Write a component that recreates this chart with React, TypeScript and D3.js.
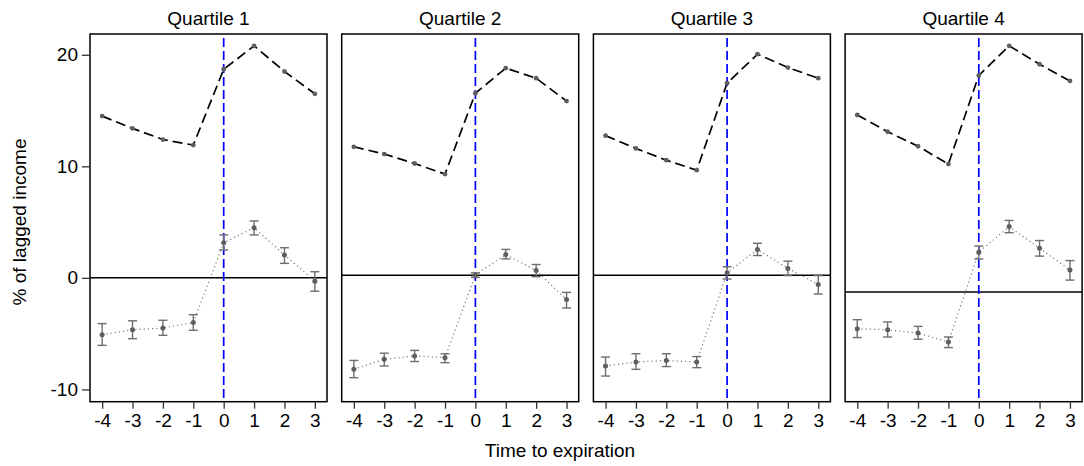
import { useEffect, useRef } from 'react';
import * as d3 from "d3";

// time relative to expiration
const times = [-4, -3, -2, -1, 0, 1, 2, 3];
const quartiles = ["Quartile 1", "Quartile 2", "Quartile 3", "Quartile 4"];
const yTicks = [-10, 0, 10, 20];

// dashed series (levels)
const levelQ1 = [14.5, 13.4, 12.4, 11.9, 18.7, 20.8, 18.5, 16.5];
const levelQ2 = [11.75, 11.1, 10.25, 9.3, 16.55, 18.8, 17.9, 15.85];
const levelQ3 = [12.75, 11.6, 10.55, 9.65, 17.45, 20.05, 18.85, 17.9];
const levelQ4 = [14.6, 13.1, 11.8, 10.2, 18.15, 20.8, 19.15, 17.65];

// dotted series (estimates with confidence intervals)
const estQ1 = [-5.1, -4.65, -4.5, -4.0, 3.15, 4.5, 2.05, -0.3];
const loQ1 = [-6.05, -5.45, -5.15, -4.7, 2.5, 3.85, 1.3, -1.2];
const hiQ1 = [-4.1, -3.85, -3.8, -3.3, 3.85, 5.1, 2.7, 0.55];

const estQ2 = [-8.2, -7.3, -7.0, -7.15, 0.25, 2.1, 0.65, -1.95];
const loQ2 = [-8.95, -7.9, -7.5, -7.6, 0.05, 1.7, 0.1, -2.7];
const hiQ2 = [-7.4, -6.75, -6.5, -6.8, 0.45, 2.55, 1.2, -1.3];

const estQ3 = [-7.9, -7.55, -7.4, -7.55, 0.45, 2.55, 0.85, -0.6];
const loQ3 = [-8.8, -8.2, -7.95, -8.05, -0.1, 2.0, 0.2, -1.45];
const hiQ3 = [-7.1, -6.8, -6.8, -7.05, 1.0, 3.1, 1.5, 0.2];

const estQ4 = [-4.55, -4.65, -4.95, -5.75, 2.3, 4.6, 2.65, 0.7];
const loQ4 = [-5.35, -5.3, -5.5, -6.25, 1.7, 4.05, 1.95, -0.2];
const hiQ4 = [-3.75, -3.95, -4.35, -5.3, 2.85, 5.15, 3.35, 1.55];

// horizontal reference line per panel
const refLines = [0, 0.24, 0.24, -1.26];

const levels = [levelQ1, levelQ2, levelQ3, levelQ4];
const ests = [estQ1, estQ2, estQ3, estQ4];
const los = [loQ1, loQ2, loQ3, loQ4];
const his = [hiQ1, hiQ2, hiQ3, hiQ4];

export default function App() {
  const chartRef = useRef<SVGSVGElement>(null);

  useEffect(() => {
    if (!chartRef.current) return;
    d3.select(chartRef.current).selectAll("*").remove();

    const width = 1084;
    const height = 466;
    const top = 34;
    const bottom = 401.7;
    const panelLeft0 = 90;
    const panelW = 237;
    const panelStep = 251.7;
    const font = "Liberation Sans, Arial, sans-serif";
    const plain = (d: d3.NumberValue) => String(d); // hyphen minus, not unicode minus

    const svg = d3.select(chartRef.current)
      .attr("viewBox", [0, 0, width, height])
      .attr("width", width)
      .attr("height", height)
      .style("font-family", font);

    const y = d3.scaleLinear().domain([-11.1, 21.86]).range([bottom, top]);

    quartiles.forEach((title, i) => {
      const left = panelLeft0 + i * panelStep;
      const x = d3.scaleLinear().domain([-4.4, 3.4]).range([left, left + panelW]);
      const g = svg.append("g");

      // title
      g.append("text")
        .attr("x", left + panelW / 2)
        .attr("y", 25)
        .attr("text-anchor", "middle")
        .style("font-size", "19px")
        .text(title);

      // reference line
      g.append("line")
        .attr("x1", left).attr("x2", left + panelW)
        .attr("y1", y(refLines[i])).attr("y2", y(refLines[i]))
        .attr("stroke", "#000").attr("stroke-width", 1.5);

      // vertical blue dashed at 0
      g.append("line")
        .attr("x1", x(0)).attr("x2", x(0))
        .attr("y1", top + 4).attr("y2", bottom)
        .attr("stroke", "#0000ff").attr("stroke-width", 1.7)
        .attr("stroke-dasharray", "9,4");

      const idx = d3.range(times.length);

      // dashed level line
      const levelLine = d3.line<number>()
        .x(j => x(times[j]))
        .y(j => y(levels[i][j]));
      g.append("path")
        .attr("d", levelLine(idx))
        .attr("fill", "none")
        .attr("stroke", "#000")
        .attr("stroke-width", 1.7)
        .attr("stroke-dasharray", "10,5");

      g.selectAll(".lvl").data(idx).join("circle")
        .attr("cx", j => x(times[j]))
        .attr("cy", j => y(levels[i][j]))
        .attr("r", 2.4)
        .attr("fill", "#5e5e5e");

      // dotted estimate line
      const estLine = d3.line<number>()
        .x(j => x(times[j]))
        .y(j => y(ests[i][j]));
      g.append("path")
        .attr("d", estLine(idx))
        .attr("fill", "none")
        .attr("stroke", "#777")
        .attr("stroke-width", 1.2)
        .attr("stroke-dasharray", "1.2,3");

      // error bars
      const eb = g.append("g").attr("stroke", "#6e6e6e").attr("stroke-width", 1.4);
      idx.forEach(j => {
        const cx = x(times[j]);
        eb.append("line").attr("x1", cx).attr("x2", cx)
          .attr("y1", y(los[i][j])).attr("y2", y(his[i][j]));
        eb.append("line").attr("x1", cx - 4.5).attr("x2", cx + 4.5)
          .attr("y1", y(los[i][j])).attr("y2", y(los[i][j]));
        eb.append("line").attr("x1", cx - 4.5).attr("x2", cx + 4.5)
          .attr("y1", y(his[i][j])).attr("y2", y(his[i][j]));
      });

      g.selectAll(".est").data(idx).join("circle")
        .attr("cx", j => x(times[j]))
        .attr("cy", j => y(ests[i][j]))
        .attr("r", 2.5)
        .attr("fill", "#5e5e5e");

      // frame
      g.append("rect")
        .attr("x", left).attr("y", top)
        .attr("width", panelW).attr("height", bottom - top)
        .attr("fill", "none").attr("stroke", "#000").attr("stroke-width", 1.5);

      // x axis
      const xAxis = g.append("g")
        .attr("transform", `translate(0,${bottom})`)
        .call(d3.axisBottom(x).tickValues(times).tickSize(7).tickPadding(5).tickFormat(plain));
      xAxis.select(".domain").remove();
      xAxis.selectAll("line").attr("stroke", "#333").attr("stroke-width", 1.3);
      xAxis.selectAll("text").style("font-size", "19px").style("font-family", font).attr("fill", "#000");

      if (i === 0) {
        const yAxis = g.append("g")
          .attr("transform", `translate(${left},0)`)
          .call(d3.axisLeft(y).tickValues(yTicks).tickSize(8).tickPadding(4).tickFormat(plain));
        yAxis.select(".domain").remove();
        yAxis.selectAll("line").attr("stroke", "#333").attr("stroke-width", 1.3);
        yAxis.selectAll("text").style("font-size", "19px").style("font-family", font).attr("fill", "#000");
      }
    });

    // axis titles
    svg.append("text")
      .attr("text-anchor", "middle")
      .attr("x", 560)
      .attr("y", 457)
      .style("font-size", "19px")
      .text("Time to expiration");

    svg.append("text")
      .attr("text-anchor", "middle")
      .attr("transform", "rotate(-90)")
      .attr("x", -222)
      .attr("y", 26)
      .style("font-size", "19px")
      .text("% of lagged income");
  }, []);

  return (
    <div style={{ position: "absolute", left: 0, top: 0 }}>
      <svg ref={chartRef}></svg>
    </div>
  );
}
